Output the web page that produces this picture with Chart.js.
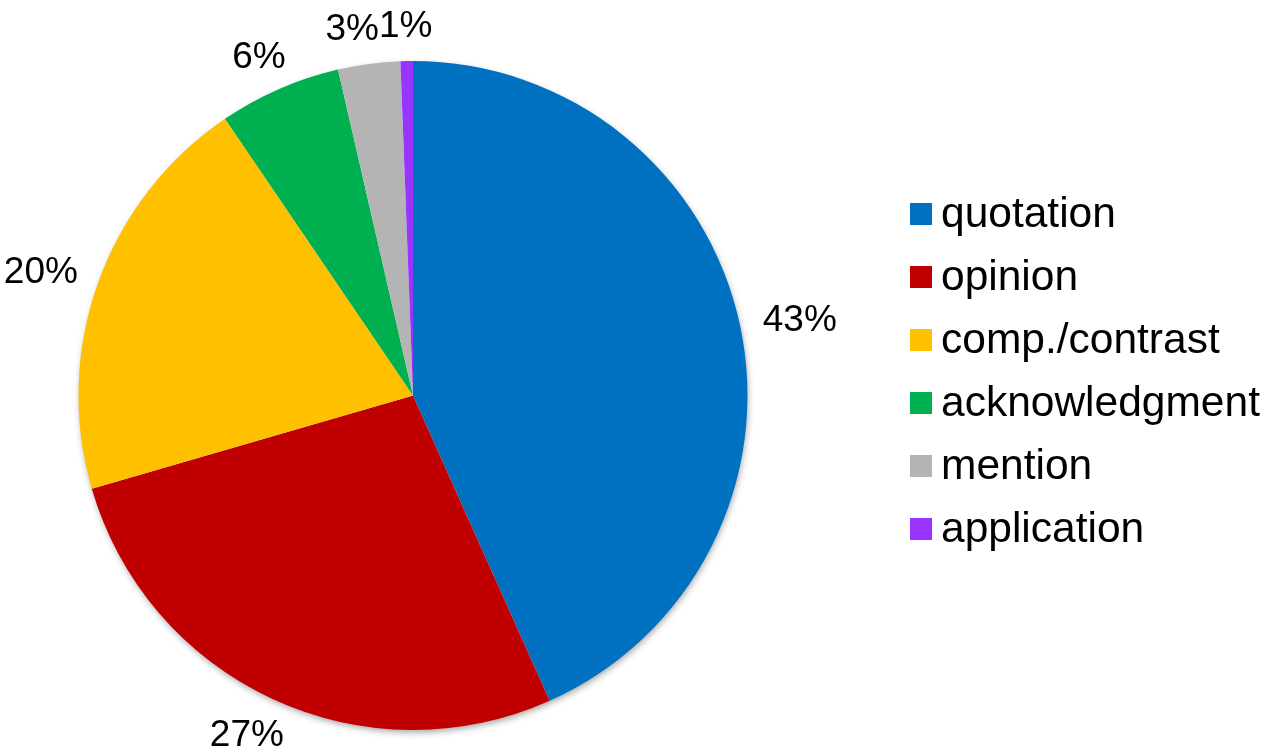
<!DOCTYPE html>
<html>
<head>
<meta charset="utf-8">
<title>Citation functions</title>
<script src="https://cdn.jsdelivr.net/npm/chart.js@4/dist/chart.umd.min.js"></script>
<style>
  html, body { margin: 0; padding: 0; background: #ffffff; }
  #wrap { width: 1267px; height: 753px; position: relative; }
</style>
</head>
<body>
<div id="wrap"><canvas id="pie"></canvas></div>
<script>
// Share of each citation function (percent of all citations)
const categories = ['quotation', 'opinion', 'comp./contrast', 'acknowledgment', 'mention', 'application'];
const shares = [43.3, 27.2, 20.0, 5.9, 3.0, 0.6];
const sliceColors = ['#0070C0', '#C00000', '#FFC000', '#00B050', '#B4B4B4', '#9933FF'];

const FONT = '"Liberation Sans", Arial, Helvetica, sans-serif';

// Soft drop shadow behind the whole pie
const pieShadow = {
  id: 'pieShadow',
  beforeDatasetsDraw(chart) {
    const arcs = chart.getDatasetMeta(0).data;
    if (!arcs.length) return;
    const { x, y, outerRadius } = arcs[0].getProps(['x', 'y', 'outerRadius'], true);
    const ctx = chart.ctx;
    ctx.save();
    ctx.shadowColor = 'rgba(0,0,0,0.38)';
    ctx.shadowBlur = 7;
    ctx.shadowOffsetX = 1;
    ctx.shadowOffsetY = 3;
    ctx.fillStyle = '#ffffff';
    ctx.beginPath();
    ctx.arc(x, y, outerRadius - 1, 0, Math.PI * 2);
    ctx.fill();
    ctx.restore();
  }
};

// Percentage labels placed just outside each slice; crowded labels are pushed apart
const outsideLabels = {
  id: 'outsideLabels',
  afterDatasetsDraw(chart, args, opts) {
    const ctx = chart.ctx;
    const ds = chart.data.datasets[0];
    const total = ds.data.reduce((a, b) => a + b, 0);
    const arcs = chart.getDatasetMeta(0).data;
    ctx.save();
    ctx.font = opts.size + 'px ' + FONT;
    ctx.fillStyle = '#000000';
    ctx.textAlign = 'center';
    ctx.textBaseline = 'alphabetic';
    const digitH = opts.size * 0.716;
    const boxes = arcs.map((arc, i) => {
      const p = arc.getProps(['x', 'y', 'startAngle', 'endAngle', 'outerRadius'], true);
      const mid = (p.startAngle + p.endAngle) / 2;
      const dx = Math.cos(mid), dy = Math.sin(mid);
      const text = Math.round(ds.data[i] / total * 100) + '%';
      const w = ctx.measureText(text).width;
      const ax = p.x + (p.outerRadius + opts.gap) * dx;
      const ay = p.y + (p.outerRadius + opts.gap) * dy;
      return { text, w, cx: ax + dx * w / 2, cy: ay + dy * digitH / 2 };
    });
    // walk backwards so later (clockwise) labels keep their spot and earlier ones yield
    for (let i = boxes.length - 2; i >= 0; i--) {
      const a = boxes[i], b = boxes[i + 1];
      const vOverlap = Math.abs(a.cy - b.cy) < digitH;
      const hOverlap = a.cx + a.w / 2 > b.cx - b.w / 2 && a.cx < b.cx;
      if (vOverlap && hOverlap) a.cx = b.cx - b.w / 2 - a.w / 2;
    }
    boxes.forEach(b => ctx.fillText(b.text, b.cx, b.cy + digitH / 2));
    ctx.restore();
  }
};

// Legend column to the right of the pie
const sideLegend = {
  id: 'sideLegend',
  afterDraw(chart, args, opts) {
    const ctx = chart.ctx;
    const ds = chart.data.datasets[0];
    ctx.save();
    ctx.font = opts.size + 'px ' + FONT;
    ctx.textAlign = 'left';
    ctx.textBaseline = 'alphabetic';
    chart.data.labels.forEach((label, i) => {
      const cy = opts.top + i * opts.rowStep;
      ctx.fillStyle = ds.backgroundColor[i];
      ctx.fillRect(opts.left, cy - opts.box / 2, opts.box, opts.box);
      ctx.fillStyle = '#000000';
      ctx.fillText(label, opts.left + opts.box + opts.textGap, cy + opts.size * 0.31);
    });
    ctx.restore();
  }
};

new Chart(document.getElementById('pie'), {
  type: 'pie',
  data: {
    labels: categories,
    datasets: [{
      data: shares,
      backgroundColor: sliceColors,
      borderWidth: 0,
      hoverOffset: 0
    }]
  },
  options: {
    responsive: true,
    maintainAspectRatio: false,
    devicePixelRatio: 1,
    animation: false,
    events: [],
    layout: { padding: { left: 78, right: 519, top: 61, bottom: 23 } },
    plugins: {
      legend: { display: false },
      tooltip: { enabled: false },
      outsideLabels: { size: 37, gap: 24 },
      sideLegend: { size: 42.5, left: 910, top: 214, rowStep: 63, box: 22, textGap: 9 }
    }
  },
  plugins: [pieShadow, outsideLabels, sideLegend]
});
</script>
</body>
</html>
